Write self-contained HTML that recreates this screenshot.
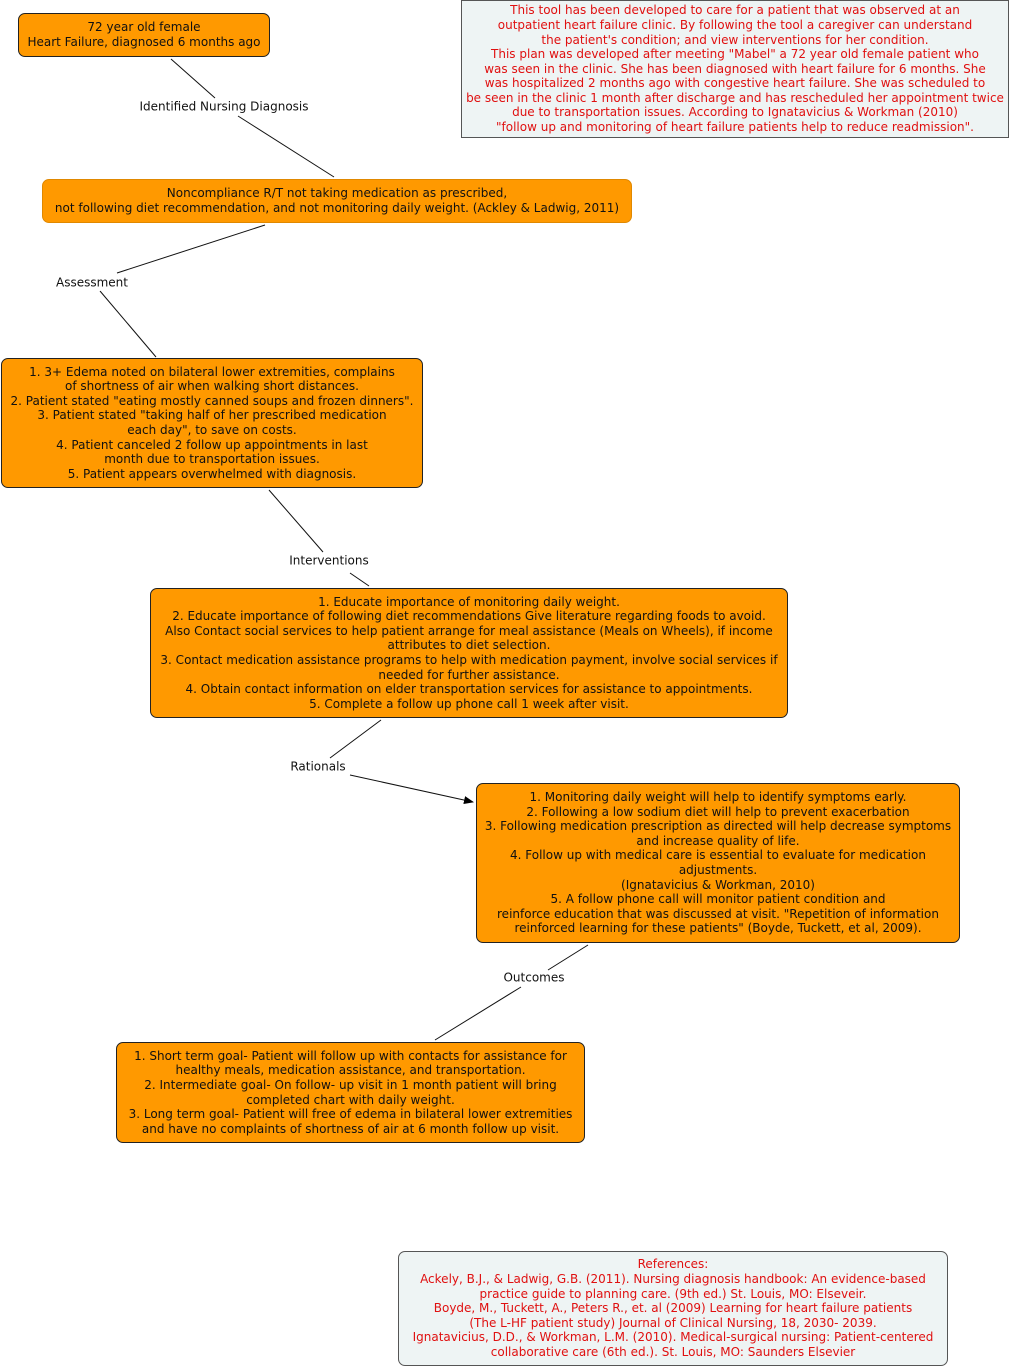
<!DOCTYPE html>
<html><head><meta charset="utf-8"><style>
body{margin:0;width:1010px;height:1369px;position:relative;background:#fff;font-family:"DejaVu Sans","Liberation Sans",sans-serif;font-size:12px;line-height:14.6px;overflow:hidden}
.b{position:absolute;box-sizing:border-box;background:#ff9900;border:1px solid #222;border-radius:7px;display:flex;align-items:center;justify-content:center;text-align:center;color:#111;white-space:nowrap}
.i{position:absolute;box-sizing:border-box;background:#eef4f4;border:1px solid #555;text-align:center;color:#e01010;display:flex;align-items:center;justify-content:center;white-space:nowrap}
.l{position:absolute;background:#fff;color:#111;white-space:nowrap;transform:translate(-50%,-50%);padding:0 2px}
svg{position:absolute;left:0;top:0}
</style></head><body>
<svg width="1010" height="1369"><defs><marker id="a" markerWidth="10" markerHeight="8" refX="9" refY="4" orient="auto" markerUnits="userSpaceOnUse"><path d="M0,0L10,4L0,8z" fill="#000"/></marker></defs>
<g stroke="#111" stroke-width="1">
<line x1="171" y1="59" x2="215" y2="98"/><line x1="238" y1="116" x2="334" y2="177"/>
<line x1="265" y1="225" x2="117" y2="273"/><line x1="100" y1="291" x2="156" y2="357"/>
<line x1="269" y1="490" x2="323" y2="552"/><line x1="350" y1="573" x2="369" y2="586"/>
<line x1="381" y1="720" x2="330" y2="758"/><line x1="350" y1="775" x2="473" y2="802" marker-end="url(#a)"/>
<line x1="588" y1="945" x2="548" y2="970"/><line x1="521" y1="987" x2="435" y2="1040"/>
</g></svg>
<div class="b" style="left:18px;top:13px;width:252px;height:44px">72 year old female<br>Heart Failure, diagnosed 6 months ago</div>
<div class="i" style="left:461px;top:0;width:548px;height:138px">This tool has been developed to care for a patient that was observed at an<br>outpatient heart failure clinic. By following the tool a caregiver can understand<br>the patient's condition; and view interventions for her condition.<br>This plan was developed after meeting "Mabel" a 72 year old female patient who<br>was seen in the clinic. She has been diagnosed with heart failure for 6 months. She<br>was hospitalized 2 months ago with congestive heart failure. She was scheduled to<br>be seen in the clinic 1 month after discharge and has rescheduled her appointment twice<br>due to transportation issues. According to Ignatavicius &amp; Workman (2010)<br>"follow up and monitoring of heart failure patients help to reduce readmission".</div>
<div class="b" style="left:42px;top:179px;width:590px;height:44px;border-color:#e08800">Noncompliance R/T not taking medication as prescribed,<br>not following diet recommendation, and not monitoring daily weight. (Ackley &amp; Ladwig, 2011)</div>
<div class="b" style="left:1px;top:358px;width:422px;height:130px">1. 3+ Edema noted on bilateral lower extremities, complains<br>of shortness of air when walking short distances.<br>2. Patient stated "eating mostly canned soups and frozen dinners".<br>3. Patient stated "taking half of her prescribed medication<br>each day", to save on costs.<br>4. Patient canceled 2 follow up appointments in last<br>month due to transportation issues.<br>5. Patient appears overwhelmed with diagnosis.</div>
<div class="b" style="left:150px;top:588px;width:638px;height:130px">1. Educate importance of monitoring daily weight.<br>2. Educate importance of following diet recommendations Give literature regarding foods to avoid.<br>Also Contact social services to help patient arrange for meal assistance (Meals on Wheels), if income<br>attributes to diet selection.<br>3. Contact medication assistance programs to help with medication payment, involve social services if<br>needed for further assistance.<br>4. Obtain contact information on elder transportation services for assistance to appointments.<br>5. Complete a follow up phone call 1 week after visit.</div>
<div class="b" style="left:476px;top:783px;width:484px;height:160px">1. Monitoring daily weight will help to identify symptoms early.<br>2. Following a low sodium diet will help to prevent exacerbation<br>3. Following medication prescription as directed will help decrease symptoms<br>and increase quality of life.<br>4. Follow up with medical care is essential to evaluate for medication<br>adjustments.<br>(Ignatavicius &amp; Workman, 2010)<br>5. A follow phone call will monitor patient condition and<br>reinforce education that was discussed at visit. "Repetition of information<br>reinforced learning for these patients" (Boyde, Tuckett, et al, 2009).</div>
<div class="b" style="left:116px;top:1042px;width:469px;height:101px">1. Short term goal- Patient will follow up with contacts for assistance for<br>healthy meals, medication assistance, and transportation.<br>2. Intermediate goal- On follow- up visit in 1 month patient will bring<br>completed chart with daily weight.<br>3. Long term goal- Patient will free of edema in bilateral lower extremities<br>and have no complaints of shortness of air at 6 month follow up visit.</div>
<div class="i" style="left:398px;top:1251px;width:550px;height:115px;border-radius:7px">References:<br>Ackely, B.J., &amp; Ladwig, G.B. (2011). Nursing diagnosis handbook: An evidence-based<br>practice guide to planning care. (9th ed.) St. Louis, MO: Elseveir.<br>Boyde, M., Tuckett, A., Peters R., et. al (2009) Learning for heart failure patients<br>(The L-HF patient study) Journal of Clinical Nursing, 18, 2030- 2039.<br>Ignatavicius, D.D., &amp; Workman, L.M. (2010). Medical-surgical nursing: Patient-centered<br>collaborative care (6th ed.). St. Louis, MO: Saunders Elsevier</div>
<div class="l" style="left:224px;top:107px">Identified Nursing Diagnosis</div>
<div class="l" style="left:92px;top:283px">Assessment</div>
<div class="l" style="left:329px;top:561px">Interventions</div>
<div class="l" style="left:318px;top:767px">Rationals</div>
<div class="l" style="left:534px;top:978px">Outcomes</div>
</body></html>
